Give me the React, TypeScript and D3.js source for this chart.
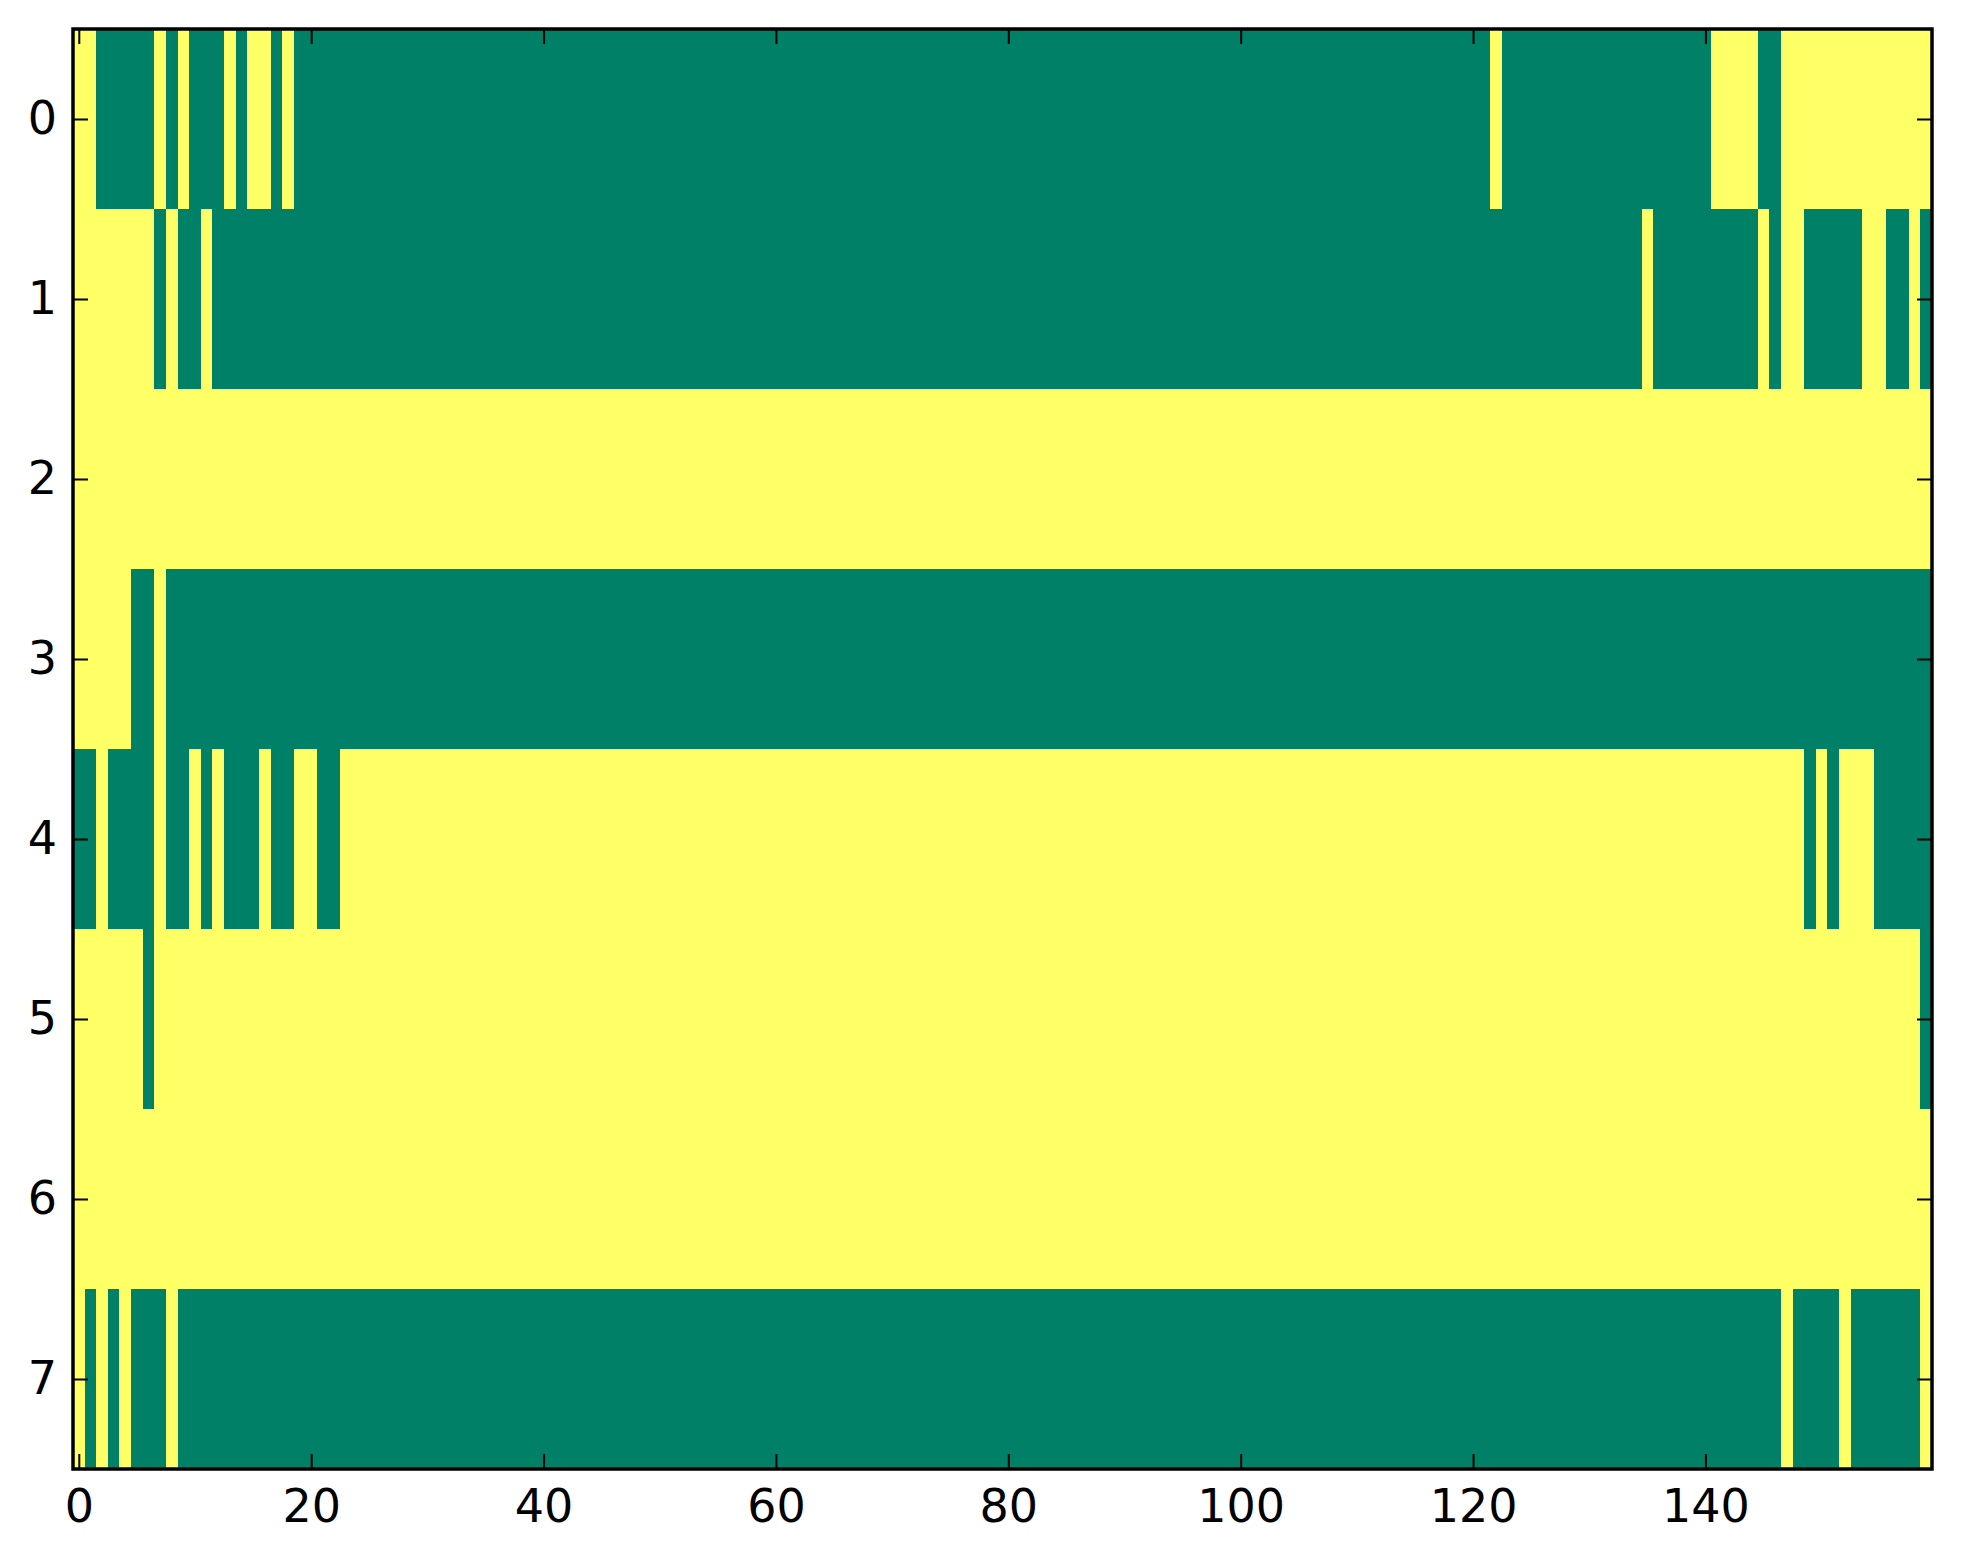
import { useEffect, useRef } from 'react'
import * as d3 from 'd3'

// cell values read from the picture as runs of [value, count] per row
// 1 = yellow (high), 0 = green (low)
const row0: [number, number][] = [[1, 2], [0, 5], [1, 1], [0, 1], [1, 1], [0, 3], [1, 1], [0, 1], [1, 2], [0, 1], [1, 1], [0, 103], [1, 1], [0, 18], [1, 4], [0, 2], [1, 13]]
const row1: [number, number][] = [[1, 7], [0, 1], [1, 1], [0, 2], [1, 1], [0, 123], [1, 1], [0, 9], [1, 1], [0, 1], [1, 2], [0, 5], [1, 2], [0, 2], [1, 1], [0, 1]]
const row2: [number, number][] = [[1, 160]]
const row3: [number, number][] = [[1, 5], [0, 2], [1, 1], [0, 152]]
const row4: [number, number][] = [[0, 2], [1, 1], [0, 4], [1, 1], [0, 2], [1, 1], [0, 1], [1, 1], [0, 3], [1, 1], [0, 2], [1, 2], [0, 2], [1, 126], [0, 1], [1, 1], [0, 1], [1, 3], [0, 5]]
const row5: [number, number][] = [[1, 6], [0, 1], [1, 152], [0, 1]]
const row6: [number, number][] = [[1, 160]]
const row7: [number, number][] = [[1, 1], [0, 1], [1, 1], [0, 1], [1, 1], [0, 3], [1, 1], [0, 138], [1, 1], [0, 4], [1, 1], [0, 6], [1, 1]]

const rows = [row0, row1, row2, row3, row4, row5, row6, row7]
const nCols = 160

const xTicks = [0, 20, 40, 60, 80, 100, 120, 140]
const yTicks = [0, 1, 2, 3, 4, 5, 6, 7]

const WIDTH = 1963
const HEIGHT = 1564

export default function App() {
  const svgRef = useRef<SVGSVGElement>(null)

  useEffect(() => {
    if (!svgRef.current) return
    const svg = d3.select(svgRef.current)
    svg.selectAll('*').remove()

    const left = 73
    const right = 1932
    const top = 29
    const bottom = 1469

    const x = d3.scaleLinear().domain([-0.5, nCols - 0.5]).range([left, right])
    const y = d3.scaleLinear().domain([-0.5, rows.length - 0.5]).range([top, bottom])

    // summer colormap ends
    const color = d3.scaleLinear<string>().domain([0, 1]).range(['#008066', '#ffff66'])

    // expand runs into cells
    const cells: { r: number; c: number; v: number }[] = []
    rows.forEach((runs, r) => {
      let c = 0
      runs.forEach(([v, n]) => {
        for (let k = 0; k < n; k++) cells.push({ r, c: c++, v })
      })
    })

    svg.append('rect')
      .attr('width', WIDTH)
      .attr('height', HEIGHT)
      .attr('fill', 'white')

    svg.append('g')
      .selectAll('rect')
      .data(cells)
      .join('rect')
      .attr('x', d => x(d.c - 0.5))
      .attr('y', d => y(d.r - 0.5))
      .attr('width', x(1) - x(0) + 0.4)
      .attr('height', y(1) - y(0) + 0.4)
      .attr('fill', d => color(d.v))
      .attr('shape-rendering', 'crispEdges')

    const font = '"DejaVu Sans", sans-serif'
    const styleAxis = (g: d3.Selection<SVGGElement, unknown, null, undefined>) => {
      g.select('.domain').remove()
      g.selectAll('.tick line').attr('stroke', 'black').attr('stroke-width', 2)
      g.selectAll('.tick text')
        .attr('fill', 'black')
        .attr('font-family', font)
        .attr('font-size', 46)
    }

    // Bottom axis with labels
    svg.append('g')
      .attr('transform', `translate(0,${bottom})`)
      .call(d3.axisBottom(x).tickValues(xTicks).tickSizeInner(-15).tickSizeOuter(0).tickPadding(20))
      .call(styleAxis)

    // Top axis, ticks only
    svg.append('g')
      .attr('transform', `translate(0,${top})`)
      .call(d3.axisTop(x).tickValues(xTicks).tickSizeInner(-15).tickSizeOuter(0).tickFormat(() => ''))
      .call(styleAxis)

    // Left axis with labels
    svg.append('g')
      .attr('transform', `translate(${left},0)`)
      .call(d3.axisLeft(y).tickValues(yTicks).tickSizeInner(-15).tickSizeOuter(0).tickPadding(16))
      .call(styleAxis)

    // Right axis, ticks only
    svg.append('g')
      .attr('transform', `translate(${right},0)`)
      .call(d3.axisRight(y).tickValues(yTicks).tickSizeInner(-15).tickSizeOuter(0).tickFormat(() => ''))
      .call(styleAxis)

    // Frame
    svg.append('rect')
      .attr('x', left)
      .attr('y', top)
      .attr('width', right - left)
      .attr('height', bottom - top)
      .attr('fill', 'none')
      .attr('stroke', 'black')
      .attr('stroke-width', 3.5)
  }, [])

  return (
    <>
      <style>{'body { margin: 0; }'}</style>
      <svg ref={svgRef} width={WIDTH} height={HEIGHT} style={{ display: 'block' }} />
    </>
  )
}
